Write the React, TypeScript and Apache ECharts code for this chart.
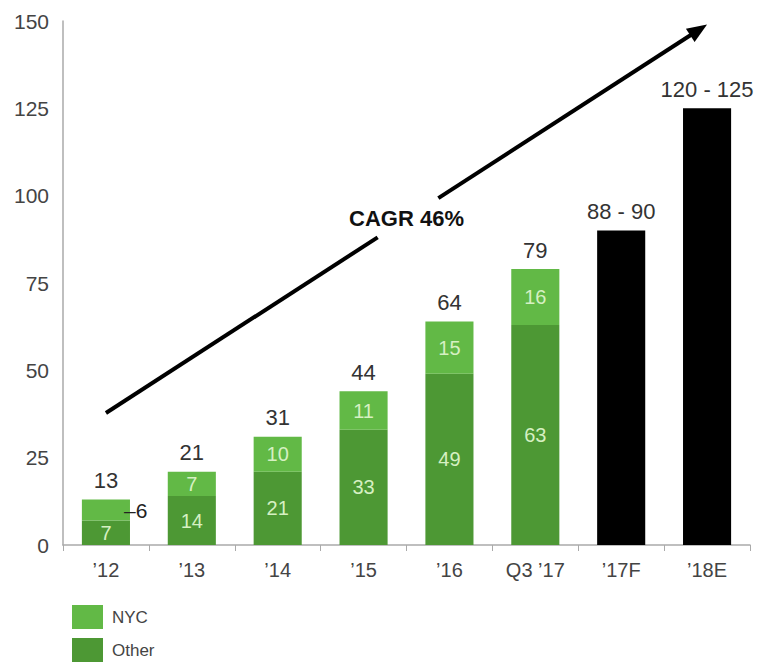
import React, { useEffect, useRef } from "react";
import * as echarts from "echarts";

const categories = ["’12", "’13", "’14", "’15", "’16", "Q3 ’17", "’17F", "’18E"];
const otherValues = [7, 14, 21, 33, 49, 63, "-", "-"];
const nycValues = [6, 7, 10, 11, 15, 16, "-", "-"];
const forecastValues = ["-", "-", "-", "-", "-", "-", 90, 125];
const totalLabels = ["13", "21", "31", "44", "64", "79", "88 - 90", "120 - 125"];
const yTicks = { min: 0, max: 150, interval: 25 };
const cagrText = "CAGR 46%";
const arrowStart = [0, 37.8];
const arrowEnd = [7, 149];

const FONT = "'Liberation Sans', Arial, sans-serif";

export default function App() {
  const ref = useRef<HTMLDivElement>(null);
  useEffect(() => {
    if (!ref.current) return;
    const chart = echarts.init(ref.current, null, { renderer: "svg" });
    const inside = { show: true, position: "inside", color: "#d6f0c2", fontSize: 20, fontFamily: FONT };
    chart.setOption({
      animation: false,
      textStyle: { fontFamily: FONT },
      grid: { left: 63, right: 7, top: 21, bottom: 118, containLabel: false },
      legend: {
        orient: "vertical",
        left: 72,
        top: 605,
        itemWidth: 31,
        itemHeight: 24,
        itemGap: 9,
        padding: 0,
        data: ["NYC", "Other"],
        textStyle: { color: "#444", fontSize: 17, fontFamily: FONT, padding: [0, 0, 0, 4] },
        icon: "rect",
      },
      xAxis: {
        type: "category",
        data: categories,
        axisLine: { lineStyle: { color: "#aaa", width: 1.5 } },
        axisTick: { show: true, length: 6, lineStyle: { color: "#aaa" } },
        axisLabel: { color: "#444", fontSize: 20, margin: 15, fontFamily: FONT },
      },
      yAxis: {
        type: "value",
        min: yTicks.min,
        max: yTicks.max,
        interval: yTicks.interval,
        axisLine: { show: true, lineStyle: { color: "#aaa", width: 1.5 } },
        axisTick: { show: false },
        splitLine: { show: false },
        axisLabel: { color: "#444", fontSize: 21, margin: 14, fontFamily: FONT },
      },
      series: [
        {
          name: "Other",
          type: "bar",
          stack: "a",
          barWidth: "56%",
          data: otherValues,
          itemStyle: { color: "#4d9834" },
          label: inside,
        },
        {
          name: "NYC",
          type: "bar",
          stack: "a",
          barWidth: "56%",
          data: nycValues.map((v, i) =>
            i === 0
              ? {
                  value: v,
                  label: {
                    show: true,
                    position: "right",
                    distance: -6,
                    color: "#222",
                    fontSize: 21,
                    formatter: "–{c}",
                  },
                }
              : v
          ),
          itemStyle: { color: "#62b946" },
          label: inside,
        },
        {
          name: "Forecast",
          type: "bar",
          stack: "a",
          barWidth: "56%",
          data: forecastValues,
          itemStyle: { color: "#000" },
        },
        {
          name: "Total",
          type: "bar",
          stack: "a",
          barWidth: "56%",
          data: categories.map(() => 0),
          itemStyle: { color: "transparent" },
          label: {
            show: true,
            position: "top",
            distance: 8,
            color: "#333",
            fontSize: 22,
            fontFamily: FONT,
            formatter: (p: any) => totalLabels[p.dataIndex],
          },
        },
      ],
    });

    const p0 = chart.convertToPixel({ xAxisIndex: 0, yAxisIndex: 0 }, arrowStart) as number[];
    const p1 = chart.convertToPixel({ xAxisIndex: 0, yAxisIndex: 0 }, arrowEnd) as number[];
    const dx = p1[0] - p0[0];
    const dy = p1[1] - p0[1];
    const len = Math.sqrt(dx * dx + dy * dy);
    const ux = dx / len;
    const uy = dy / len;
    const at = (t: number) => [p0[0] + dx * t, p0[1] + dy * t];
    const g1 = at(0.452);
    const g2 = at(0.553);
    const mid = at(0.5);
    const headLen = 20;
    const headHalf = 8;
    const base = [p1[0] - ux * headLen, p1[1] - uy * headLen];
    const nx = -uy;
    const ny = ux;
    const lineStyle = { stroke: "#000", lineWidth: 4 };
    chart.setOption({
      graphic: [
        { type: "line", shape: { x1: p0[0], y1: p0[1], x2: g1[0], y2: g1[1] }, style: lineStyle },
        { type: "line", shape: { x1: g2[0], y1: g2[1], x2: base[0] + ux * 2, y2: base[1] + uy * 2 }, style: lineStyle },
        {
          type: "polygon",
          shape: {
            points: [
              [p1[0], p1[1]],
              [base[0] + nx * headHalf, base[1] + ny * headHalf],
              [base[0] - nx * headHalf, base[1] - ny * headHalf],
            ],
          },
          style: { fill: "#000" },
        },
        {
          type: "text",
          x: mid[0],
          y: mid[1],
          style: {
            text: cagrText,
            fill: "#111",
            font: `bold 22px ${FONT}`,
            align: "center",
            verticalAlign: "middle",
          },
        },
      ],
    });
    return () => chart.dispose();
  }, []);
  return <div ref={ref} style={{ width: 757, height: 663, position: "absolute", left: 0, top: 0 }} />;
}
